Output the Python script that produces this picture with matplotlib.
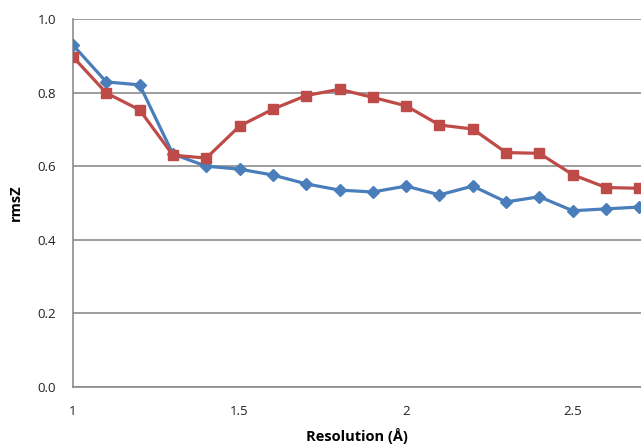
import matplotlib
matplotlib.use("Agg")
import matplotlib.pyplot as plt

resolution = [1.0, 1.1, 1.2, 1.3, 1.4, 1.5, 1.6, 1.7, 1.8, 1.9, 2.0, 2.1, 2.2, 2.3, 2.4, 2.5, 2.6, 2.7]
blue_rmsz = [0.929, 0.829, 0.821, 0.633, 0.600, 0.592, 0.576, 0.552, 0.535, 0.530, 0.546, 0.522, 0.546, 0.503, 0.517, 0.479, 0.484, 0.489]
red_rmsz = [0.897, 0.799, 0.753, 0.630, 0.622, 0.709, 0.755, 0.792, 0.809, 0.787, 0.764, 0.712, 0.701, 0.637, 0.635, 0.577, 0.542, 0.540]
yticks = [0.0, 0.2, 0.4, 0.6, 0.8, 1.0]
xticks = [1, 1.5, 2, 2.5]

plt.rcParams['font.family'] = ['Open Sans', 'DejaVu Sans']

fig = plt.figure(figsize=(6.41, 4.44), dpi=100)
ax = fig.add_axes([73/641, 1 - 387/444, 1 - 73/641, (387 - 19)/444])

ax.plot(resolution, blue_rmsz, color='#4A7EBB', lw=2.3, marker='D', ms=6,
        markeredgecolor='#4A7EBB', zorder=3)
ax.plot(resolution, red_rmsz, color='#BE4B48', lw=2.3, marker='s', ms=7.5,
        markeredgecolor='#BE4B48', zorder=4)

ax.set_xlim(1, 2.705)
ax.set_ylim(0, 1.0)
ax.set_yticks(yticks)
ax.set_yticklabels([f"{v:.1f}" for v in yticks])
ax.set_xticks(xticks)
ax.set_xticklabels(["1", "1.5", "2", "2.5"])
ax.yaxis.grid(True, color='#8c8c8c', lw=1.2)
ax.set_axisbelow(True)
for s in ['top', 'right']:
    ax.spines[s].set_visible(False)
for s in ['left', 'bottom']:
    ax.spines[s].set_color('#8c8c8c')
    ax.spines[s].set_linewidth(1.2)
ax.tick_params(axis='both', length=0, labelsize=9.5, colors='#222222')
ax.tick_params(axis='y', pad=12)
ax.tick_params(axis='x', pad=13)

ax.set_xlabel("Resolution (Å)", fontsize=10.5, fontweight='bold', labelpad=7)
ax.set_ylabel("rmsZ", fontsize=10.5, fontweight='bold', labelpad=11)

fig.savefig("out.png", dpi=100)
